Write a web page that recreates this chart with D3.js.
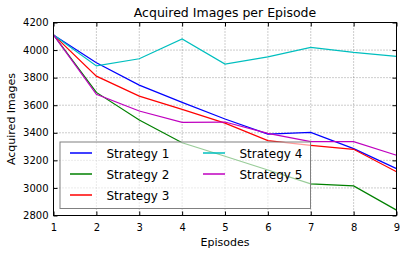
<!DOCTYPE html>
<html>
<head>
<meta charset="utf-8">
<script src="https://cdn.jsdelivr.net/npm/d3@7"></script>
<style>
  body { margin: 0; background: #fff; }
  text { font-family: "DejaVu Sans", sans-serif; }
</style>
</head>
<body>
<div id="chart-area"></div>
<script>
// data
var episodes = [1, 2, 3, 4, 5, 6, 7, 8, 9];
var strategy1 = [4110, 3908, 3746, 3621, 3500, 3390, 3403, 3285, 3140];
var strategy2 = [4110, 3693, 3493, 3328, 3230, 3130, 3029, 3015, 2839];
var strategy3 = [4110, 3811, 3666, 3570, 3470, 3343, 3309, 3280, 3118];
var strategy4 = [4110, 3885, 3937, 4081, 3898, 3951, 4019, 3983, 3954];
var strategy5 = [4110, 3679, 3558, 3476, 3478, 3396, 3336, 3336, 3237];
var seriesNames = ["Strategy 1", "Strategy 2", "Strategy 3", "Strategy 4", "Strategy 5"];
var seriesColors = ["#0000ff", "#008000", "#ff0000", "#00bfbf", "#bf00bf"];
var yTicks = [2800, 3000, 3200, 3400, 3600, 3800, 4000, 4200];

var allSeries = [strategy1, strategy2, strategy3, strategy4, strategy5];

var margin = { left: 53.5, right: 10.5, top: 22.5, bottom: 38.5 };
var W = 407, H = 254;
var width = W - margin.left - margin.right;
var height = H - margin.top - margin.bottom;

var svg = d3.select("#chart-area")
  .append("svg")
  .attr("width", W)
  .attr("height", H);

var g = svg.append("g")
  .attr("transform", "translate(" + margin.left + "," + margin.top + ")");

var x = d3.scaleLinear().domain([1, 9]).range([0, width]);
var y = d3.scaleLinear().domain([2800, 4200]).range([height, 0]);

// grid
g.append("g").selectAll("line")
  .data(episodes.slice(1, -1))
  .enter().append("line")
  .attr("x1", d => x(d)).attr("x2", d => x(d))
  .attr("y1", 0).attr("y2", height)
  .attr("stroke", "#000").attr("stroke-opacity", 0.5)
  .attr("stroke-width", 0.8).attr("stroke-dasharray", "1,2");

g.append("g").selectAll("line")
  .data(yTicks.slice(1, -1))
  .enter().append("line")
  .attr("x1", 0).attr("x2", width)
  .attr("y1", d => y(d)).attr("y2", d => y(d))
  .attr("stroke", "#000").attr("stroke-opacity", 0.5)
  .attr("stroke-width", 0.8).attr("stroke-dasharray", "1,2");

// lines
var line = d3.line()
  .x((d, i) => x(episodes[i]))
  .y(d => y(d));

g.append("g").selectAll("path")
  .data(allSeries)
  .enter().append("path")
  .attr("d", d => line(d))
  .attr("fill", "none")
  .attr("stroke", (d, i) => seriesColors[i])
  .attr("stroke-width", 1.2);

// axes, classic inward ticks on all sides
var xAxisCall = d3.axisBottom(x).tickValues(episodes).tickSizeInner(-4).tickSizeOuter(0).tickPadding(8);
var yAxisCall = d3.axisLeft(y).tickValues(yTicks).tickSizeInner(-4).tickSizeOuter(0).tickPadding(5)
  .tickFormat(d3.format("d"));

g.append("g")
  .attr("transform", "translate(0," + height + ")")
  .call(xAxisCall);
g.append("g").call(yAxisCall);

g.append("g").call(d3.axisTop(x).tickValues(episodes).tickSizeInner(-4).tickSizeOuter(0).tickFormat(""));
g.append("g").attr("transform", "translate(" + width + ",0)")
  .call(d3.axisRight(y).tickValues(yTicks).tickSizeInner(-4).tickSizeOuter(0).tickFormat(""));

g.selectAll(".domain").remove();
g.selectAll(".tick text")
  .attr("font-size", "10px")
  .attr("fill", "#000")
  .style("font-family", "'DejaVu Sans', sans-serif");
g.selectAll(".tick line").attr("stroke", "#000");

// legend
var legend = g.append("g").attr("transform", "translate(" + (60 - margin.left) + "," + (142 - margin.top) + ")");
legend.append("rect")
  .attr("width", 250.5).attr("height", 66.5)
  .attr("fill", "#fff").attr("fill-opacity", 0.6)
  .attr("stroke", "#808080").attr("stroke-width", 1);

seriesNames.forEach(function (name, i) {
  var item = legend.append("g")
    .attr("transform", "translate(" + (i < 3 ? 10 : 143) + "," + (11 + (i % 3) * 21) + ")");
  item.append("line")
    .attr("x1", 0).attr("x2", 22)
    .attr("stroke", seriesColors[i])
    .attr("stroke-width", 1.5);
  item.append("text")
    .attr("x", 36.5).attr("y", 4.5)
    .attr("font-size", "12px")
    .text(name);
});

// frame
g.append("rect")
  .attr("width", width).attr("height", height)
  .attr("fill", "none").attr("stroke", "#000").attr("stroke-width", 1);

// labels
svg.append("text")
  .attr("x", margin.left + width / 2).attr("y", 17)
  .attr("text-anchor", "middle").attr("font-size", "12.5px")
  .text("Acquired Images per Episode");

svg.append("text")
  .attr("x", margin.left + width / 2).attr("y", 246)
  .attr("text-anchor", "middle").attr("font-size", "11px")
  .text("Episodes");

svg.append("text")
  .attr("transform", "translate(15," + (margin.top + height / 2) + ") rotate(-90)")
  .attr("text-anchor", "middle").attr("font-size", "11px")
  .text("Acquired Images");
</script>
</body>
</html>
